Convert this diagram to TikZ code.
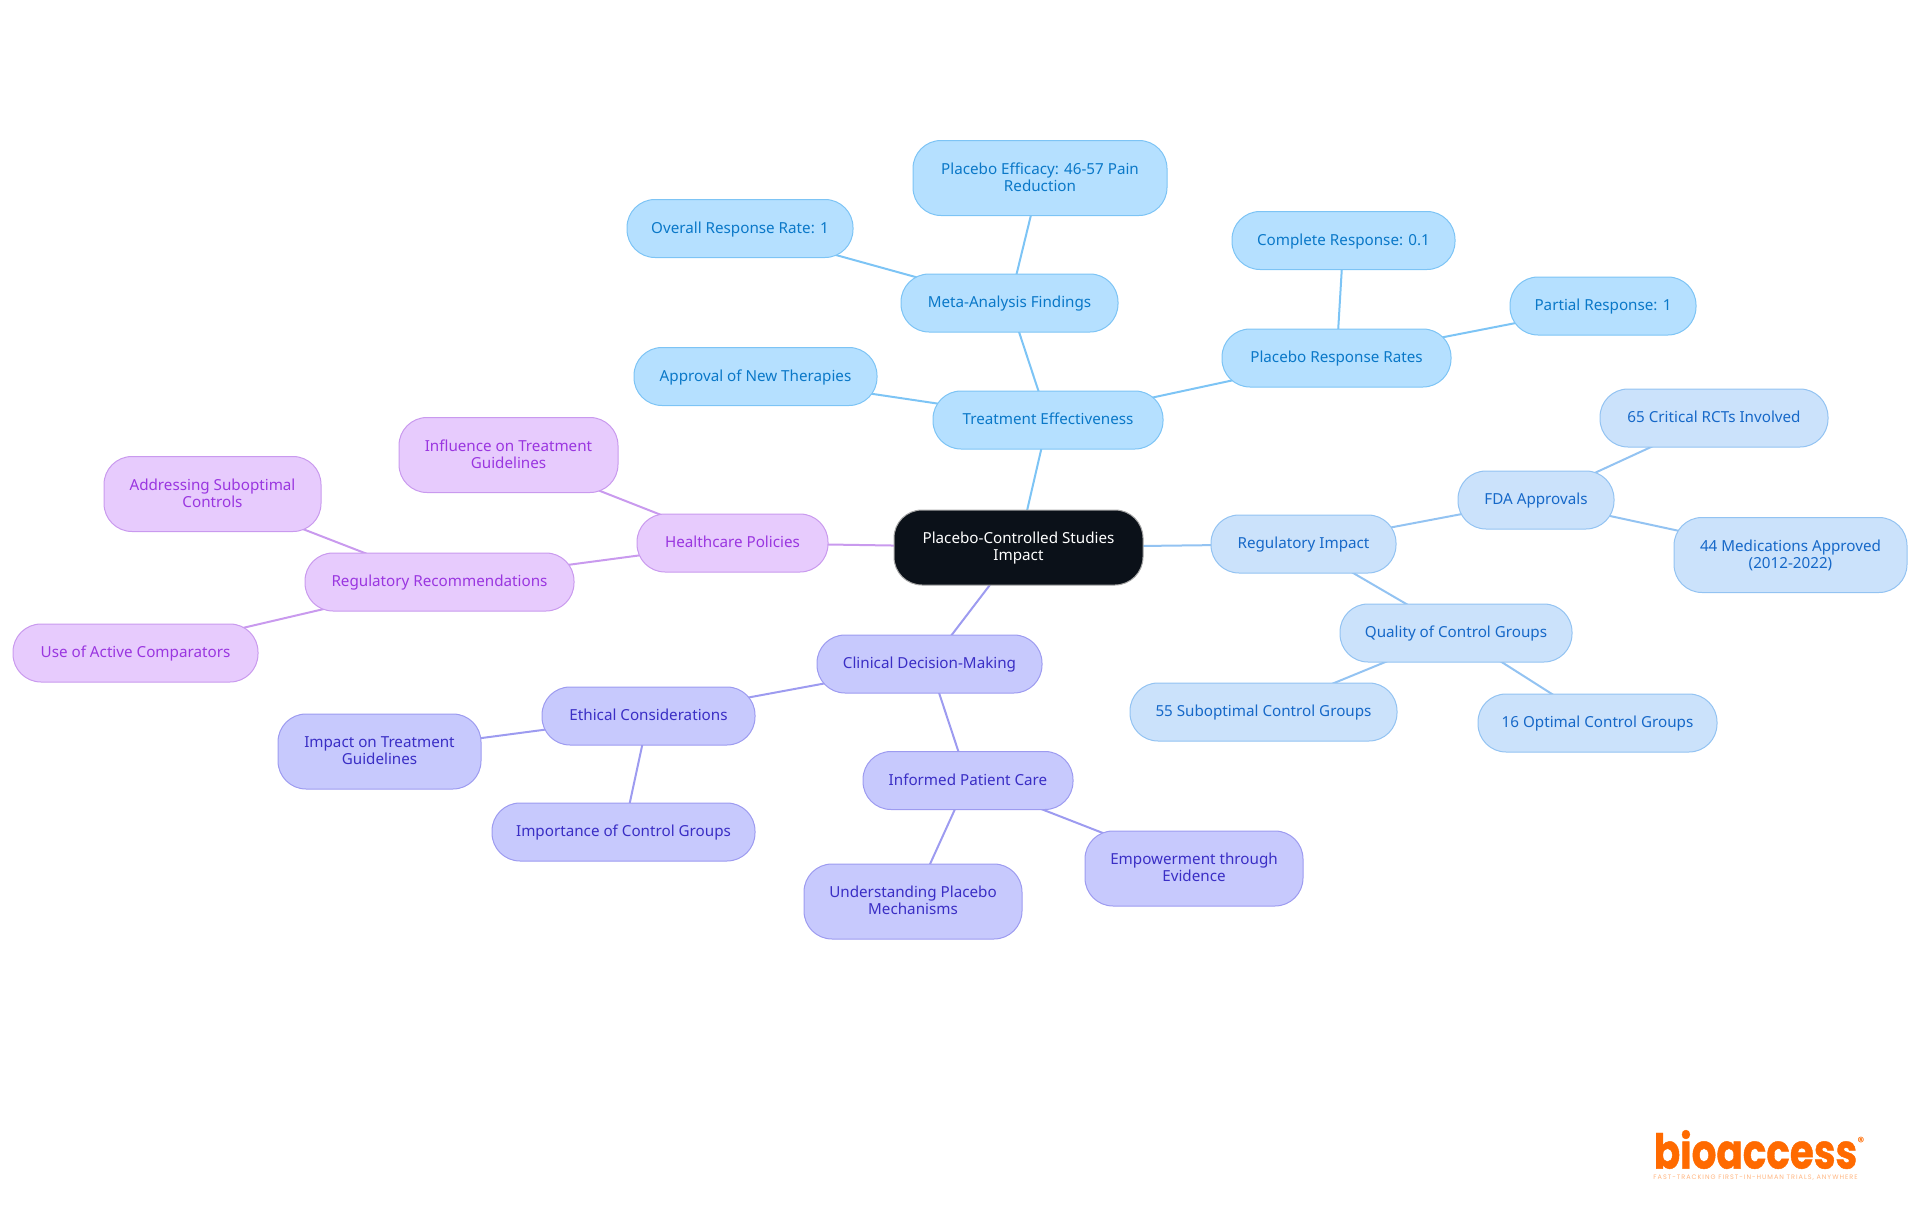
\documentclass[tikz,border=0pt]{standalone}
\usepackage{fontspec}
\usetikzlibrary{backgrounds}
\setmainfont{Noto Sans}
\newfontfamily\logofont{Poppins}
\newfontfamily\tagfont[LetterSpace=15]{Poppins}
\definecolor{rootfill}{HTML}{0B1119}
\definecolor{tefill}{HTML}{B5E0FF}
\definecolor{teline}{HTML}{7DC4F5}
\definecolor{tetext}{HTML}{0A78C8}
\definecolor{refill}{HTML}{CBE2FB}
\definecolor{reline}{HTML}{93C3F2}
\definecolor{retext}{HTML}{1668C8}
\definecolor{clfill}{HTML}{C7C9FD}
\definecolor{clline}{HTML}{9D9BF0}
\definecolor{cltext}{HTML}{3A2EC5}
\definecolor{hpfill}{HTML}{E7CBFD}
\definecolor{hpline}{HTML}{C99AEE}
\definecolor{hptext}{HTML}{9A36E0}
\definecolor{logoorange}{HTML}{FF6A00}
\tikzset{
  box/.style={draw, rectangle, rounded corners=28pt, line width=1pt, inner sep=0pt,
    minimum height=58pt, align=center, text height=12pt, text depth=3pt,
    font=\fontsize{15.2}{17}\selectfont},
  tall/.style={minimum height=75pt, text height=29pt, text depth=3pt},
  rootbox/.style={box, fill=rootfill, draw=gray!70, text=white},
  tebox/.style={box, fill=tefill, draw=teline, text=tetext},
  rebox/.style={box, fill=refill, draw=reline, text=retext},
  clbox/.style={box, fill=clfill, draw=clline, text=cltext},
  hpbox/.style={box, fill=hpfill, draw=hpline, text=hptext},
  edge/.style={line width=2pt}
}
\begin{document}
\begin{tikzpicture}[x=1pt,y=-1pt]
\useasboundingbox (0,0) rectangle (1920,1215);
\node[rootbox,tall,minimum width=249pt] (root) at (1018.5,547.5) {Placebo-Controlled Studies\\Impact};
% treatment branch
\node[tebox,minimum width=230pt] (te) at (1048,420) {Treatment Effectiveness};
\node[tebox,minimum width=243pt] (approval) at (755.5,376.5) {Approval of New Therapies};
\node[tebox,minimum width=217pt] (meta) at (1009.5,303) {Meta-Analysis Findings};
\node[tebox,minimum width=226pt] (overall) at (740,228.5) {Overall Response Rate: 1};
\node[tebox,tall,minimum width=254pt] (efficacy) at (1040,178) {Placebo Efficacy: 46-57 Pain\\Reduction};
\node[tebox,minimum width=229pt] (rates) at (1336.5,358) {Placebo Response Rates};
\node[tebox,minimum width=223pt] (complete) at (1343.5,240.5) {Complete Response: 0.1};
\node[tebox,minimum width=186pt] (partial) at (1603,306) {Partial Response: 1};
% regulatory branch
\node[rebox,minimum width=185pt] (reg) at (1303.5,544) {Regulatory Impact};
\node[rebox,minimum width=156pt] (fda) at (1536,500) {FDA Approvals};
\node[rebox,minimum width=228pt] (rcts) at (1714,418) {65 Critical RCTs Involved};
\node[rebox,tall,minimum width=233pt] (meds) at (1790.5,555) {44 Medications Approved\\(2012-2022)};
\node[rebox,minimum width=232pt] (quality) at (1456,633) {Quality of Control Groups};
\node[rebox,minimum width=267pt] (subopt) at (1263.5,712) {55 Suboptimal Control Groups};
\node[rebox,minimum width=239pt] (optimal) at (1597.5,723) {16 Optimal Control Groups};
% clinical branch
\node[clbox,minimum width=225pt] (clin) at (929.5,664) {Clinical Decision-Making};
\node[clbox,minimum width=213pt] (ethical) at (648.5,716) {Ethical Considerations};
\node[clbox,tall,minimum width=203pt] (impact) at (379.5,751.5) {Impact on Treatment\\Guidelines};
\node[clbox,minimum width=263pt] (importance) at (623.5,832) {Importance of Control Groups};
\node[clbox,minimum width=210pt] (informed) at (968,780.5) {Informed Patient Care};
\node[clbox,tall,minimum width=218pt] (mech) at (913,901.5) {Understanding Placebo\\Mechanisms};
\node[clbox,tall,minimum width=218pt] (empower) at (1194,868.5) {Empowerment through\\Evidence};
% policy branch
\node[hpbox,minimum width=191pt] (policy) at (732.5,543) {Healthcare Policies};
\node[hpbox,tall,minimum width=219pt] (influence) at (508.5,455) {Influence on Treatment\\Guidelines};
\node[hpbox,minimum width=269pt] (recs) at (439.5,582) {Regulatory Recommendations};
\node[hpbox,tall,minimum width=217pt] (addressing) at (212.5,494) {Addressing Suboptimal\\Controls};
\node[hpbox,minimum width=245pt] (active) at (135.5,653) {Use of Active Comparators};
% logo
\node[anchor=base,inner sep=0pt,text=logoorange,xscale=0.81,transform shape,font=\logofont\bfseries\addfontfeature{FakeBold=1}\fontsize{48}{48}\selectfont] (logo) at (1755.5,1168.5) {bioaccess};
\node[inner sep=0pt,text=logoorange,font=\logofont\bfseries\fontsize{13}{13}\selectfont] (regmark) at (1861,1142) {®};
\node[inner sep=0pt,text=logoorange!50,font=\tagfont\fontsize{6.5}{6.5}\selectfont] (tagline) at (1755.5,1178) {FAST-TRACKING FIRST-IN-HUMAN TRIALS, ANYWHERE};
\begin{pgfonlayer}{background}
\path[draw,edge,teline] (root.center) -- (te.center);
\path[draw,edge,teline] (te.center) -- (approval.center);
\path[draw,edge,teline] (te.center) -- (meta.center);
\path[draw,edge,teline] (meta.center) -- (overall.center);
\path[draw,edge,teline] (meta.center) -- (efficacy.center);
\path[draw,edge,teline] (te.center) -- (rates.center);
\path[draw,edge,teline] (rates.center) -- (complete.center);
\path[draw,edge,teline] (rates.center) -- (partial.center);
\path[draw,edge,reline] (root.center) -- (reg.center);
\path[draw,edge,reline] (reg.center) -- (fda.center);
\path[draw,edge,reline] (fda.center) -- (rcts.center);
\path[draw,edge,reline] (fda.center) -- (meds.center);
\path[draw,edge,reline] (reg.center) -- (quality.center);
\path[draw,edge,reline] (quality.center) -- (subopt.center);
\path[draw,edge,reline] (quality.center) -- (optimal.center);
\path[draw,edge,clline] (root.center) -- (clin.center);
\path[draw,edge,clline] (clin.center) -- (ethical.center);
\path[draw,edge,clline] (ethical.center) -- (impact.center);
\path[draw,edge,clline] (ethical.center) -- (importance.center);
\path[draw,edge,clline] (clin.center) -- (informed.center);
\path[draw,edge,clline] (informed.center) -- (mech.center);
\path[draw,edge,clline] (informed.center) -- (empower.center);
\path[draw,edge,hpline] (root.center) -- (policy.center);
\path[draw,edge,hpline] (policy.center) -- (influence.center);
\path[draw,edge,hpline] (policy.center) -- (recs.center);
\path[draw,edge,hpline] (recs.center) -- (addressing.center);
\path[draw,edge,hpline] (recs.center) -- (active.center);
\end{pgfonlayer}
\end{tikzpicture}
\end{document}
